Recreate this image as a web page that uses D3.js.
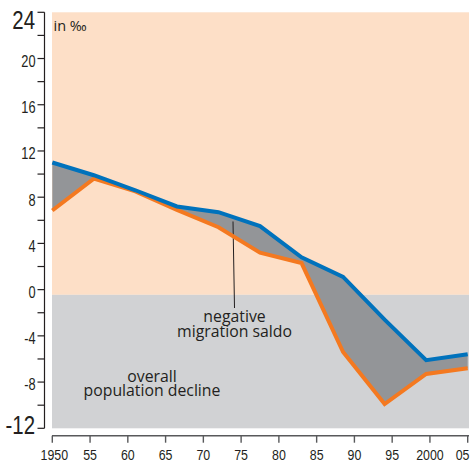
<!DOCTYPE html>
<html><head><meta charset="utf-8">
<script src="https://cdn.jsdelivr.net/npm/d3@7/dist/d3.min.js"></script>
<style>body{margin:0;background:#fff}svg{display:block}</style>
</head><body>
<svg id="c" width="471" height="462"></svg>
<script>
const years = [1950, 1955.5, 1961, 1966.5, 1972, 1977.5, 1983, 1988.5, 1994, 1999.5, 2005];
const upperSeries = [11.0, 9.9, 8.6, 7.2, 6.7, 5.5, 2.8, 1.1, -2.6, -6.1, -5.6];
const lowerSeries = [6.85, 9.6, 8.5, 6.9, 5.4, 3.2, 2.3, -5.4, -9.9, -7.3, -6.8];
const xTickValues = [1950, 1955, 1960, 1965, 1970, 1975, 1980, 1985, 1990, 1995, 2000, 2005];
const xTickLabels = ["1950", "55", "60", "65", "70", "75", "80", "85", "90", "95", "2000", "05"];
const yMajorTicks = [24, 20, 16, 12, 8, 4, 0, -4, -8, -12];
const yMinorTicks = [22, 18, 14, 10, 6, 2, -2, -6, -10];
const annotationLines = ["negative", "migration saldo"];
const declineLines = ["overall", "population decline"];
const declineThreshold = -0.45;

const svg = d3.select("#c");
const x = d3.scaleLinear().domain([1950, 2005]).range([52.3, 467.7]);
const y = d3.scaleLinear().domain([-12, 24]).range([428.3, 12.3]);
const axisFont = "'Liberation Sans',Arial,sans-serif";
const textFont = "'Open Sans','Noto Sans',sans-serif";
const ink = "#231f20";

// backgrounds
svg.append("rect").attr("x", 52).attr("y", y(24)).attr("width", 469 - 52)
  .attr("height", y(declineThreshold) - y(24)).attr("fill", "#fddfc7");
svg.append("rect").attr("x", 52).attr("y", y(declineThreshold)).attr("width", 469 - 52)
  .attr("height", y(-12) - y(declineThreshold)).attr("fill", "#d1d2d4");

const data = years.map((yr, i) => ({yr, a: upperSeries[i], b: lowerSeries[i]}));
svg.append("path").datum(data)
  .attr("d", d3.area().x(d => x(d.yr)).y0(d => y(d.b)).y1(d => y(d.a)))
  .attr("fill", "#939598");

// leader line
svg.append("line").attr("x1", 233).attr("x2", 234.5).attr("y1", y(5.9)).attr("y2", 308)
  .attr("stroke", ink).attr("stroke-width", 1);

svg.append("path").datum(data)
  .attr("d", d3.line().x(d => x(d.yr)).y(d => y(d.b)))
  .attr("fill", "none").attr("stroke", "#f47920").attr("stroke-width", 4).attr("stroke-linejoin", "miter");
svg.append("path").datum(data)
  .attr("d", d3.line().x(d => x(d.yr)).y(d => y(d.a)))
  .attr("fill", "none").attr("stroke", "#0072bc").attr("stroke-width", 4).attr("stroke-linejoin", "miter");

// y axis
const yAxis = svg.append("g").attr("transform", "translate(44.5,0)");
yAxis.append("line").attr("y1", y(24)).attr("y2", y(-12)).attr("stroke", ink).attr("stroke-width", 1.2);
yAxis.selectAll(".mj").data(yMajorTicks).join("line")
  .attr("x1", -7).attr("x2", 0).attr("y1", d => y(d)).attr("y2", d => y(d))
  .attr("stroke", ink).attr("stroke-width", 1.2);
yAxis.selectAll(".mn").data(yMinorTicks).join("line")
  .attr("x1", -7).attr("x2", 0).attr("y1", d => y(d)).attr("y2", d => y(d))
  .attr("stroke", ink).attr("stroke-width", 1.2);
const big = d => d === 24 || d === -12;
yAxis.selectAll(".yl").data(yMajorTicks).join("text")
  .attr("transform", d => {
    const by = d === 24 ? 29.3 : d === -12 ? 433.5 : y(d) + 8.4;
    return `translate(${big(d) ? -9.5 : -9},${by}) scale(0.8,1)`;
  })
  .attr("text-anchor", "end")
  .attr("font-family", axisFont)
  .attr("font-size", d => big(d) ? 25.5 : 16)
  .attr("fill", ink)
  .text(d => d);

// x axis
const xAxis = svg.append("g").attr("transform", "translate(0,435.7)");
xAxis.append("line").attr("x1", 52).attr("x2", 469).attr("stroke", "#58595b").attr("stroke-width", 1.4);
xAxis.selectAll(".xt").data(xTickValues).join("line")
  .attr("x1", d => x(d)).attr("x2", d => x(d)).attr("y1", 0).attr("y2", 7)
  .attr("stroke", "#58595b").attr("stroke-width", 1.4);
const lastIdx = xTickValues.length - 1;
xAxis.selectAll(".xl").data(xTickValues).join("text")
  .attr("transform", (d, i) => {
    const px = i === 0 ? x(d) + 2 : i === lastIdx ? 469.5 : x(d);
    return `translate(${px},24.3) scale(0.8,1)`;
  })
  .attr("text-anchor", (d, i) => i === lastIdx ? "end" : "middle")
  .attr("font-family", axisFont).attr("font-size", 15.5).attr("fill", ink)
  .text((d, i) => xTickLabels[i]);

// texts
svg.append("text").attr("x", 53.5).attr("y", 30.5).attr("font-family", textFont)
  .attr("font-size", 14.5).attr("fill", ink).text("in ‰");
svg.selectAll(".ann").data(annotationLines).join("text")
  .attr("x", 234.5).attr("y", (d, i) => 321.7 + i * 15)
  .attr("text-anchor", "middle").attr("font-family", textFont)
  .attr("font-size", 15.8).attr("fill", ink).text(d => d);
svg.selectAll(".dec").data(declineLines).join("text")
  .attr("x", 152).attr("y", (d, i) => 381.5 + i * 14.5)
  .attr("text-anchor", "middle").attr("font-family", textFont)
  .attr("font-size", 15.8).attr("fill", ink).text(d => d);
</script>
</body></html>
